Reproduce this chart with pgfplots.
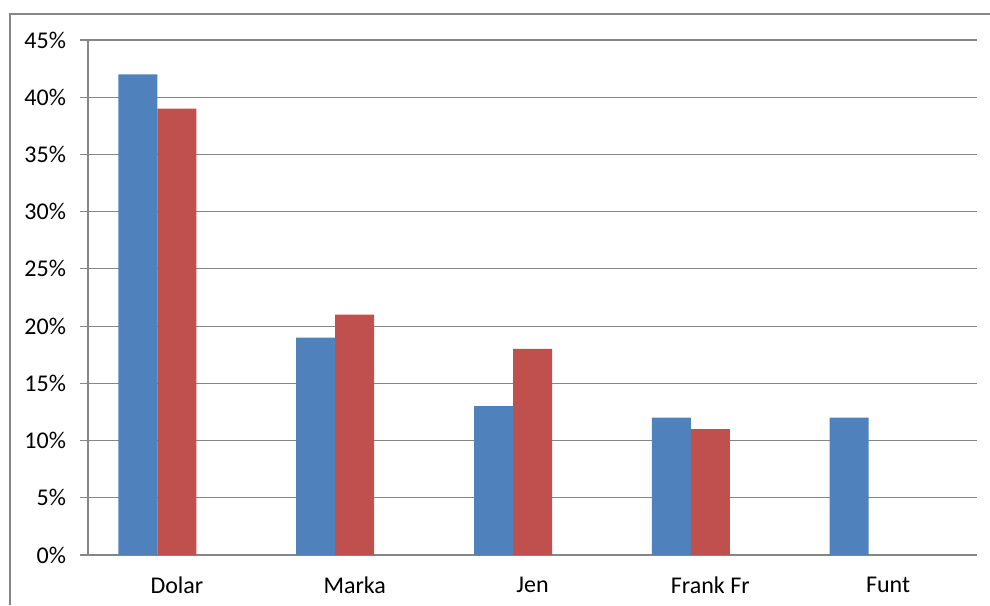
\documentclass[border=0pt]{standalone}
\usepackage{fontspec}
\setmainfont{Carlito}
\usepackage{pgfplots}
\pgfplotsset{compat=1.18}

\definecolor{barblue}{RGB}{79,129,189}
\definecolor{barred}{RGB}{192,80,77}
\definecolor{gridgray}{RGB}{134,134,134}

\begin{document}
\begin{tikzpicture}
\useasboundingbox (-44pt,-25pt) rectangle (451pt,277.5pt);
\begin{axis}[
  scale only axis,
  width=444.5pt, height=257.5pt,
  ybar, bar width=19.5pt,
  xmin=-0.5, xmax=4.5,
  ymin=0, ymax=45,
  ytick={0,5,...,45},
  yticklabel={\pgfmathprintnumber{\tick}\%},
  /pgf/number format/assume math mode=true,
  xtick={0,1,2,3,4},
  xticklabels={Dolar,Marka,Jen,Frank Fr,Funt},
  extra x ticks={-0.5,0.5,1.5,2.5,3.5,4.5},
  extra x tick labels={},
  extra x tick style={major tick length=3pt, tick style={gridgray, line width=0.6pt}},
  axis lines*=left,
  axis line style={gridgray, line width=0.6pt},
  tick align=outside,
  major tick length=4pt,
  x tick style={draw=none},
  y tick style={gridgray, line width=0.6pt},
  ymajorgrids,
  grid style={gridgray, line width=0.6pt},
  tick label style={font=\fontsize{12pt}{14pt}\selectfont, black},
  yticklabel style={xshift=-3.5pt},
  xticklabel style={yshift=-3.5pt},
]
% three slots per category; the third series is empty
\addplot[draw=none, fill=barblue, bar shift=-19.5pt] coordinates {(0,42) (1,19) (2,13) (3,12) (4,12)};
\addplot[draw=none, fill=barred, bar shift=0pt] coordinates {(0,39) (1,21) (2,18) (3,11)};
\end{axis}
\draw[gridgray, line width=0.6pt] (-39pt,-25pt) -- (-39pt,270.5pt) -- (451pt,270.5pt);
\end{tikzpicture}
\end{document}
